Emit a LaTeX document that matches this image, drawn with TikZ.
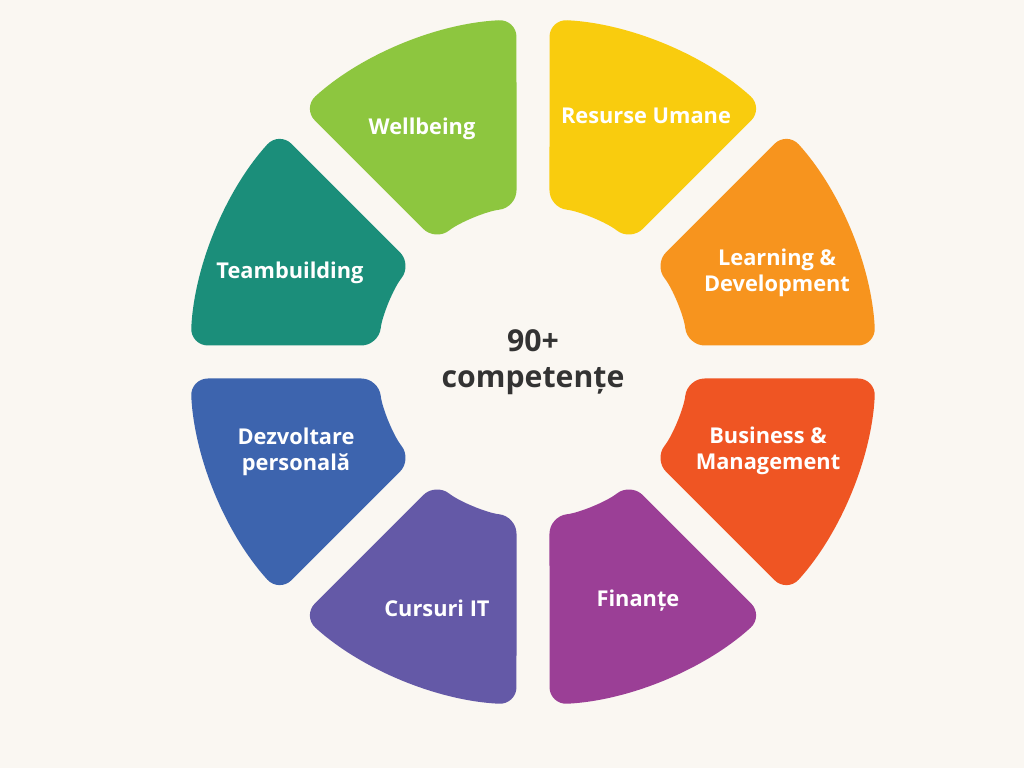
\documentclass[tikz,border=0pt]{standalone}
\usepackage{fontspec}
\setmainfont{Open Sans}
\usetikzlibrary{calc}
\definecolor{bgcol}{HTML}{FAF7F2}
\definecolor{ruCol}{HTML}{F9CC0E}
\definecolor{ldCol}{HTML}{F7941E}
\definecolor{bmCol}{HTML}{EF5523}
\definecolor{fiCol}{HTML}{9B3F96}
\definecolor{itCol}{HTML}{6459A7}
\definecolor{dpCol}{HTML}{3D64AE}
\definecolor{tbCol}{HTML}{1B8E7A}
\definecolor{wbCol}{HTML}{8DC63F}
\definecolor{txtCol}{HTML}{333333}
\begin{document}
\begin{tikzpicture}
	\tikzset{seglabel/.style={text=white,font=\bfseries\fontsize{6.2}{7.4}\selectfont,align=center,inner sep=0pt}}
	\fill [bgcol] (0,0) rectangle (10.24,7.68);
	\useasboundingbox (0,0) rectangle (10.24,7.68);
	\coordinate (c) at (5.33,4.06);
	% ring sectors
	\foreach \a/\col in {45/ruCol,0/ldCol,-45/bmCol,-90/fiCol,-135/itCol,180/dpCol,135/tbCol,90/wbCol}{
		\fill [\col,rounded corners=5pt] ($(c)+(\a+2.76:3.43)$) arc (\a+2.76:\a+42.24:3.43)
			-- ($(c)+(\a+38.89:1.55)$) arc (\a+38.89:\a+6.11:1.55) -- cycle;
	}
	\node [seglabel] (ru) at (6.46,6.52) {Resurse Umane};
	\node [seglabel] (ld) at (7.77,4.95) {Learning \&\\Development};
	\node [seglabel] (bm) at (7.68,3.17) {Business \&\\Management};
	\node [seglabel] (fi) at (6.38,1.67) {Finanțe};
	\node [seglabel] (it) at (4.37,1.60) {Cursuri IT};
	\node [seglabel] (dp) at (2.96,3.16) {Dezvoltare\\personală};
	\node [seglabel] (tb) at (2.90,4.95) {Teambuilding};
	\node [seglabel] (wb) at (4.22,6.39) {Wellbeing};
	\node [text=txtCol,font=\bfseries\fontsize{8.6}{10.4}\selectfont,align=center] (mid) at (c) {90+\\competențe};
\end{tikzpicture}
\end{document}
